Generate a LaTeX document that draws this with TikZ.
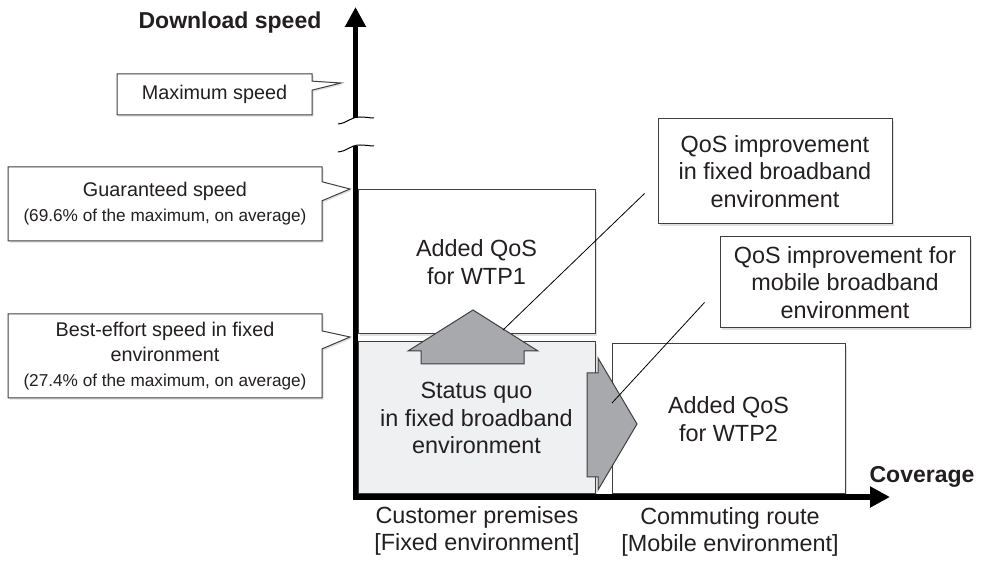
\documentclass[tikz,border=0pt]{standalone}
\usepackage{fontspec}
\setmainfont{Liberation Sans}
\usetikzlibrary{arrows.meta,positioning,shapes.callouts,shadows}
\newcommand{\cfont}{\fontsize{11.7}{13.7}\selectfont}
\newcommand{\mfont}{\fontsize{9.9}{12.5}\selectfont}
\newcommand{\sfont}{\fontsize{8.6}{12.5}\selectfont}
\newcommand{\bfont}{\fontsize{11.5}{13}\selectfont\bfseries}
\definecolor{edgegray}{HTML}{3F3F3F}
\definecolor{quofill}{HTML}{EFF0F2}
\definecolor{arrowfill}{HTML}{A8A9AD}
\definecolor{inkgray}{HTML}{231F20}
\tikzset{
  qbox/.style   ={draw=edgegray, line width=0.5pt, fill=white, align=center,
                  font=\cfont, text=inkgray, inner sep=0pt,
                  drop shadow={shadow xshift=0.8pt, shadow yshift=-0.8pt, opacity=0.25}},
  qcall/.style  ={qbox, rectangle callout, font=\mfont},
  qlabel/.style ={align=center, font=\cfont, text=inkgray, inner sep=0pt},
  qtitle/.style ={font=\bfont, text=inkgray, inner sep=0pt},
  qarrow/.style ={draw=edgegray, line width=0.5pt, fill=arrowfill},
  qaxis/.style  ={line width=2.75pt, black, -{Triangle[length=10pt,width=10pt]}},
  qbreak/.style ={line width=0.5pt, black},
  qlead/.style  ={line width=0.4pt, black},
}

\begin{document}
\begin{tikzpicture}[x=0.5pt, y=-0.5pt]
\useasboundingbox (0,0) rectangle (981,561);

% boxes on the chart
\node[qbox, minimum width=118.5pt, minimum height=72pt] (wtp1) at (476.5,262)
  {Added QoS\\for WTP1};
\node[qbox, fill=quofill, minimum width=118.5pt, minimum height=76pt] (quo) at (476.5,418)
  {Status quo\\in fixed broadband\\environment};
\node[qbox, minimum width=116.5pt, minimum height=75pt] (wtp2) at (728.5,419)
  {Added QoS\\for WTP2};

% block arrows
\draw[qarrow] (473,310) -- (538,351) -- (524,351) -- (524,364) -- (421,364)
  -- (421,351) -- (408,351) -- cycle;
\draw[qarrow] (587,373) -- (598,373) -- (598,358) -- (637,424) -- (598,490)
  -- (598,477) -- (587,477) -- cycle;
\coordinate (uptip) at (503,330);
\coordinate (righttip) at (612,403);

% axes
\draw[qaxis] (355.5,146) -- (355.5,497) -- (890,497);
\draw[qaxis] (355.5,118) -- (355.5,7);
\draw[qbreak] (338,124) .. controls (348,123) and (350,117) .. (360,117)
  .. controls (366,117) and (370,118) .. (374,118);
\draw[qbreak] (338,152) .. controls (348,151) and (350,145) .. (360,145)
  .. controls (366,145) and (370,146) .. (374,146);

\node[qtitle, anchor=base] (ytitle) at (230,29) {Download speed};
\node[qtitle] (xtitle) at (922,477) {Coverage};

% callouts on the speed axis
\node[qcall, minimum width=97.5pt, minimum height=20.5pt, callout pointer width=4.5pt,
  callout absolute pointer={(341,83)}] (maxcall) at (214.5,94.5) {Maximum speed};
\node[qcall, minimum width=157pt, minimum height=37pt, callout pointer width=9.5pt,
  callout absolute pointer={(350,189)}] (guarcall) at (165,204)
  {Guaranteed speed\\{\sfont (69.6\% of the maximum, on average)}};
\node[qcall, minimum width=157pt, minimum height=42pt, callout pointer width=9pt,
  callout absolute pointer={(350,337)}] (bestcall) at (165,356)
  {Best-effort speed in fixed\\environment\\{\sfont (27.4\% of the maximum, on average)}};

% improvement notes
\node[qbox, minimum width=117pt, minimum height=52.5pt] (fixcall) at (775,171.5)
  {QoS improvement\\in fixed broadband\\environment};
\node[qbox, minimum width=125pt, minimum height=45.5pt] (mobcall) at (845,282.5)
  {QoS improvement for\\mobile broadband\\environment};
\draw[qlead] (fixcall.south west) ++(-6.5pt,15.5pt) -- (uptip);
\draw[qlead] (mobcall.south west) ++(-7.5pt,13pt) -- (righttip);

% coverage labels
\node[qlabel] (fixlabel) at (477,531) {Customer premises\\{[Fixed environment]}};
\node[qlabel] (moblabel) at (730,532) {Commuting route\\{[Mobile environment]}};

\end{tikzpicture}
\end{document}
